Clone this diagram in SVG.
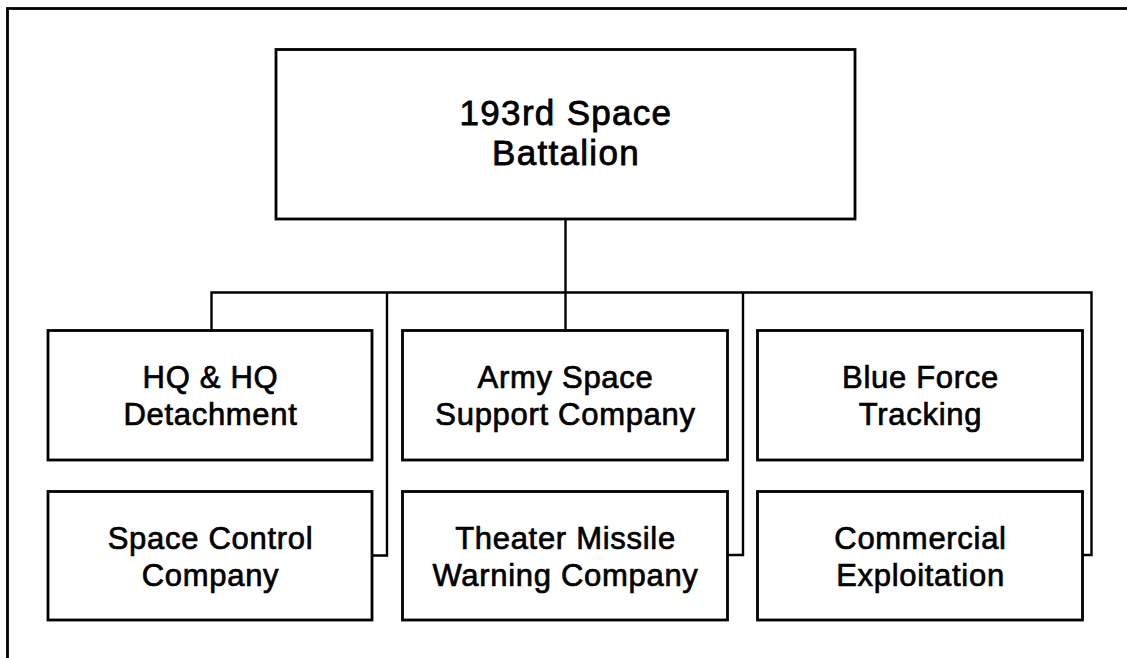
<svg xmlns="http://www.w3.org/2000/svg" width="1127" height="658" viewBox="0 0 1127 658">
<style>
.box{fill:#fff;stroke:#000;stroke-width:2.8}
.ln{fill:none;stroke:#000;stroke-width:2.4}
.t{font-family:"Liberation Sans",Arial,Helvetica,sans-serif;font-size:31px;letter-spacing:0.7px;fill:#000;stroke:#000;stroke-width:0.7;text-anchor:middle}
.tt{font-family:"Liberation Sans",Arial,Helvetica,sans-serif;font-size:35px;letter-spacing:1.3px;fill:#000;stroke:#000;stroke-width:0.8;text-anchor:middle}
</style>
<rect x="0" y="0" width="1127" height="658" fill="#fff"/>
<rect x="7.5" y="8.5" width="1200" height="700" fill="none" stroke="#000" stroke-width="2.8"/>
<g id="connectors">
<path class="ln" d="M565.5 219 V330"/>
<path class="ln" d="M211.5 330 V292.5 H1091.5 V555 H1082.5"/>
<path class="ln" d="M387 292.5 V555.5 H372"/>
<path class="ln" d="M743 292.5 V555 H727.5"/>
</g>
<g id="battalion">
<rect class="box" x="276" y="49.5" width="579" height="169.5"/>
<text class="tt" x="566" y="125">193rd Space</text>
<text class="tt" x="566" y="165">Battalion</text>
</g>
<g id="hq">
<rect class="box" x="48" y="330.5" width="324" height="129.5"/>
<text class="t" x="210.5" y="387.5">HQ &amp; HQ</text>
<text class="t" x="210.5" y="425">Detachment</text>
</g>
<g id="army">
<rect class="box" x="402.5" y="330.5" width="325" height="129.5"/>
<text class="t" x="565.5" y="387.5">Army Space</text>
<text class="t" x="565.5" y="425">Support Company</text>
</g>
<g id="blue">
<rect class="box" x="757.5" y="330.5" width="325" height="129.5"/>
<text class="t" x="920.5" y="387.5">Blue Force</text>
<text class="t" x="920.5" y="425">Tracking</text>
</g>
<g id="spacecontrol">
<rect class="box" x="48" y="491.5" width="324" height="128.5"/>
<text class="t" x="210.5" y="548.5">Space Control</text>
<text class="t" x="210.5" y="586">Company</text>
</g>
<g id="theater">
<rect class="box" x="402.5" y="491.5" width="325" height="128.5"/>
<text class="t" x="565.5" y="548.5">Theater Missile</text>
<text class="t" x="565.5" y="586">Warning Company</text>
</g>
<g id="commercial">
<rect class="box" x="757.5" y="491.5" width="325" height="128.5"/>
<text class="t" x="920.5" y="548.5">Commercial</text>
<text class="t" x="920.5" y="586">Exploitation</text>
</g>
</svg>
